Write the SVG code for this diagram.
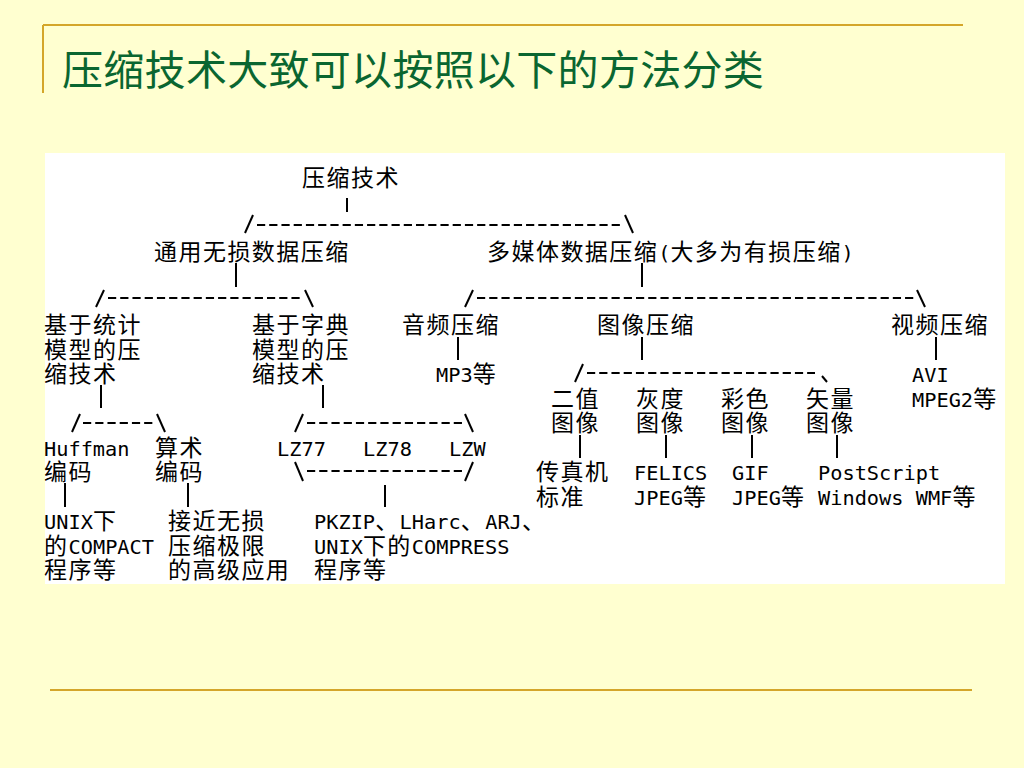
<svg xmlns="http://www.w3.org/2000/svg" width="1024" height="768" viewBox="0 0 1024 768">
<style>
.c{font-family:"Noto Sans CJK SC","Noto Sans CJK TC",sans-serif;font-size:23px;letter-spacing:1.46px;fill:#000}
.m{font-family:"DejaVu Sans Mono","Liberation Mono",monospace;font-size:20.3px;letter-spacing:0;fill:#000}
.title{font-family:"Noto Sans CJK SC",sans-serif;font-size:41px;letter-spacing:0.3px;fill:#0A6630}
.rule{stroke:#D4A62A;stroke-width:2;fill:none}
.bar{stroke:#000;stroke-width:2;fill:none}
.dash{stroke:#000;stroke-width:2;fill:none;stroke-dasharray:8.2 4.03}
.sl{stroke:#000;stroke-width:2;fill:none}
</style>
<rect x="0" y="0" width="1024" height="768" fill="#FFFFD0"/>
<g id="frame">
<path class="rule" d="M43 25H963M43 25V93"/>
<path class="rule" d="M50 690H972"/>
</g>
<text id="title" class="title" x="62" y="85">压缩技术大致可以按照以下的方法分类</text>
<rect id="panel" x="45" y="153" width="960" height="431" fill="#FFFFFF"/>
<g id="connectors">
<path class="bar" d="M347 198V212"/>
<path class="sl" d="M245 233L253 215"/><path class="dash" d="M257 225H622"/><path class="sl" d="M625 215L633 233"/>
<path class="bar" d="M236 263V287M642 263V287"/>
<path class="sl" d="M96 307L104 290"/><path class="dash" d="M108 298H303"/><path class="sl" d="M305 290L313 307"/>
<path class="sl" d="M465 307L473 290"/><path class="dash" d="M477 298H915"/><path class="sl" d="M917 290L925 307"/>
<path class="bar" d="M458 337V360M642 337V360M936 337V360"/>
<path class="sl" d="M575 382L583 364"/><path class="dash" d="M587 373H815"/><path class="sl" d="M822 376L827 382"/>
<path class="bar" d="M101 385V408M323 385V408"/>
<path class="sl" d="M72 432L80 414"/><path class="dash" d="M83 423H153"/><path class="sl" d="M157 414L165 432"/>
<path class="sl" d="M295 432L303 414"/><path class="dash" d="M307 423H463"/><path class="sl" d="M465 414L473 432"/>
<path class="bar" d="M580 435V458M666 435V458M752 435V458M837 435V458"/>
<path class="sl" d="M295 462L303 481"/><path class="dash" d="M307 471H463"/><path class="sl" d="M465 481L473 462"/>
<path class="bar" d="M65 483V507M188 483V507M385 485V507"/>
</g>
<g id="n-root"><text class="c" x="302" y="186">压缩技术</text></g>
<g id="n-lossless"><text class="c" x="154" y="259.5">通用无损数据压缩</text></g>
<g id="n-multimedia"><text y="259.5"><tspan class="c" x="487">多媒体数据压缩</tspan><tspan class="m" x="658.2">(</tspan><tspan class="c" x="670.4">大多为有损压缩</tspan><tspan class="m" x="841.6">)</tspan></text></g>
<g id="n-stat"><text class="c"><tspan x="44" y="333">基于统计</tspan><tspan x="44" y="357.5">模型的压</tspan><tspan x="44" y="382">缩技术</tspan></text></g>
<g id="n-dict"><text class="c"><tspan x="252" y="333">基于字典</tspan><tspan x="252" y="357.5">模型的压</tspan><tspan x="252" y="382">缩技术</tspan></text></g>
<g id="n-audio"><text class="c" x="402" y="333">音频压缩</text></g>
<g id="n-mp3"><text y="382"><tspan class="m" x="436">MP3</tspan><tspan class="c" x="472.7">等</tspan></text></g>
<g id="n-image"><text class="c" x="597" y="333">图像压缩</text></g>
<g id="n-video"><text class="c" x="891" y="333">视频压缩</text></g>
<g id="n-avi"><text><tspan class="m" x="912" y="382">AVI</tspan><tspan class="m" x="912" y="406.5">MPEG2</tspan><tspan class="c" x="973.2" y="406.5">等</tspan></text></g>
<g id="n-binary"><text class="c"><tspan x="551" y="406.5">二值</tspan><tspan x="551" y="431">图像</tspan></text></g>
<g id="n-gray"><text class="c"><tspan x="636" y="406.5">灰度</tspan><tspan x="636" y="431">图像</tspan></text></g>
<g id="n-color"><text class="c"><tspan x="721" y="406.5">彩色</tspan><tspan x="721" y="431">图像</tspan></text></g>
<g id="n-vector"><text class="c"><tspan x="806" y="406.5">矢量</tspan><tspan x="806" y="431">图像</tspan></text></g>
<g id="n-huffman"><text><tspan class="m" x="44" y="455.5">Huffman</tspan><tspan class="c" x="44" y="480">编码</tspan></text></g>
<g id="n-arith"><text class="c"><tspan x="155" y="455.5">算术</tspan><tspan x="155" y="480">编码</tspan></text></g>
<g id="n-lz77"><text class="m" x="277" y="455.5">LZ77</text></g>
<g id="n-lz78"><text class="m" x="363" y="455.5">LZ78</text></g>
<g id="n-lzw"><text class="m" x="449" y="455.5">LZW</text></g>
<g id="n-fax"><text class="c"><tspan x="536" y="480">传真机</tspan><tspan x="536" y="504.5">标准</tspan></text></g>
<g id="n-felics"><text><tspan class="m" x="634" y="480">FELICS</tspan><tspan class="m" x="634" y="504.5">JPEG</tspan><tspan class="c" x="682.9" y="504.5">等</tspan></text></g>
<g id="n-gif"><text><tspan class="m" x="732" y="480">GIF</tspan><tspan class="m" x="732" y="504.5">JPEG</tspan><tspan class="c" x="780.9" y="504.5">等</tspan></text></g>
<g id="n-postscript"><text><tspan class="m" x="818" y="480">PostScript</tspan><tspan class="m" x="818" y="504.5">Windows WMF</tspan><tspan class="c" x="952.5" y="504.5">等</tspan></text></g>
<g id="n-compact"><text><tspan class="m" x="44" y="529">UNIX</tspan><tspan class="c" x="92.9" y="529">下</tspan><tspan class="c" x="44" y="553.5">的</tspan><tspan class="m" x="68.5" y="553.5">COMPACT</tspan><tspan class="c" x="44" y="578">程序等</tspan></text></g>
<g id="n-limit"><text class="c"><tspan x="168" y="529">接近无损</tspan><tspan x="168" y="553.5">压缩极限</tspan><tspan x="168" y="578">的高级应用</tspan></text></g>
<g id="n-pkzip"><text><tspan class="m" x="314" y="529">PKZIP</tspan><tspan class="c" x="375.2" y="529">、</tspan><tspan class="m" x="399.6" y="529">LHarc</tspan><tspan class="c" x="460.8" y="529">、</tspan><tspan class="m" x="485.2" y="529">ARJ</tspan><tspan class="c" x="521.9" y="529">、</tspan><tspan class="m" x="314" y="553.5">UNIX</tspan><tspan class="c" x="362.9" y="553.5">下的</tspan><tspan class="m" x="411.8" y="553.5">COMPRESS</tspan><tspan class="c" x="314" y="578">程序等</tspan></text></g>
</svg>
